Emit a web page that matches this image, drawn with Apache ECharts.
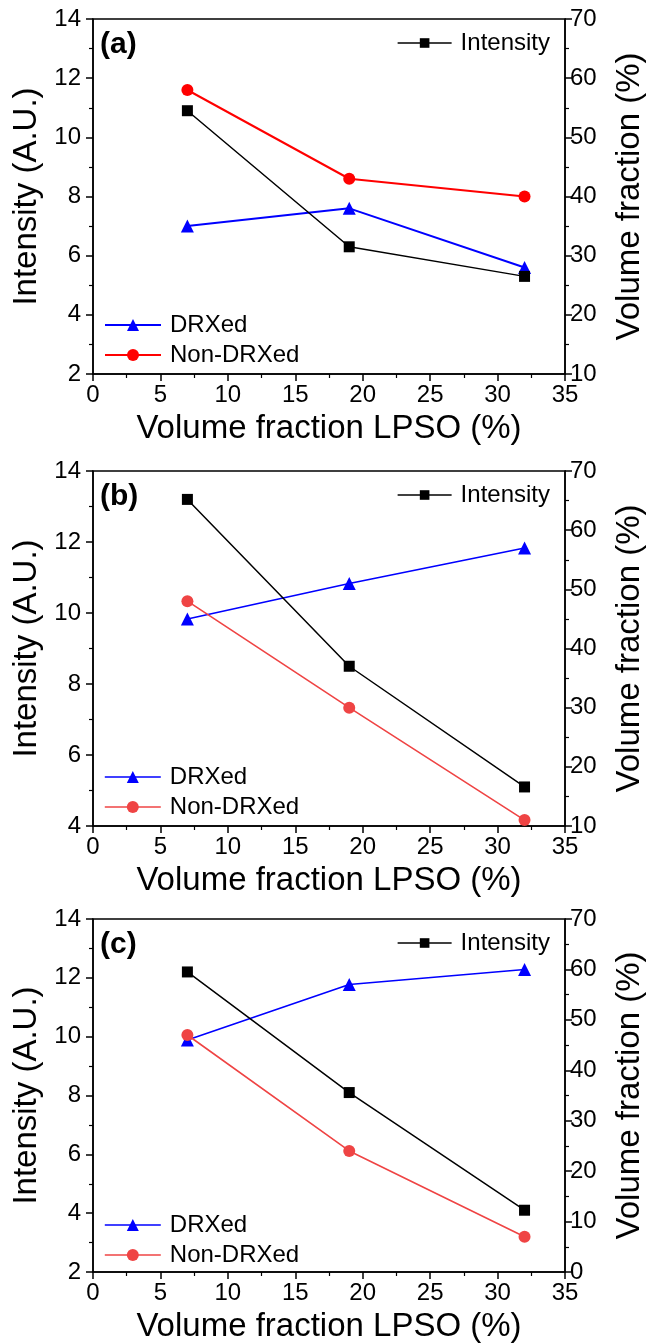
<!DOCTYPE html>
<html>
<head>
<meta charset="utf-8">
<script src="https://cdn.jsdelivr.net/npm/echarts@6/dist/echarts.min.js"></script>
<style>
	html, body { margin: 0; padding: 0; background: #fff; }
	#chart { width: 654px; height: 1344px; }
</style>
</head>
<body>
<div id="chart"></div>
<script>
// LPSO volume fraction (x) for every panel
const lpso = [7, 19, 32];

// panel (a)
const intensityA = [10.9, 6.3, 5.3];
const drxA = [35, 38, 28];
const nonDrxA = [58, 43, 40];
// panel (b)
const intensityB = [13.2, 8.5, 5.1];
const drxB = [45, 51, 57];
const nonDrxB = [48, 30, 11];
// panel (c)
const intensityC = [12.2, 8.1, 4.1];
const drxC = [46, 57, 60];
const nonDrxC = [47, 24, 7];

const panelLabels = ['(a)', '(b)', '(c)'];
const leftMin = [2, 4, 2];
const rightMin = [10, 10, 0];
const panels = [
	[intensityA, drxA, nonDrxA],
	[intensityB, drxB, nonDrxB],
	[intensityC, drxC, nonDrxC]
];

const font = 'Liberation Sans, Arial, sans-serif';
const gridTops = [19, 471, 919];
const redA = '#ff0000';
const redBC = '#ef4444';
const blue = '#0000ff';

function pairs(ys) {
	return lpso.map(function (x, i) { return [x, ys[i]]; });
}

function axisBase(labelMargin) {
	return {
		axisLine: { show: true, onZero: false, lineStyle: { color: '#000', width: 1.5 } },
		axisTick: { show: true, inside: false, length: 7, lineStyle: { color: '#000', width: 1.5 } },
		minorTick: { show: true, splitNumber: 2, length: 4, lineStyle: { color: '#000', width: 1.2 } },
		splitLine: { show: false },
		axisLabel: { color: '#000', fontSize: 24, fontFamily: font, margin: labelMargin },
		nameTextStyle: { color: '#000', fontSize: 33, fontFamily: font },
		nameLocation: 'middle'
	};
}

let grid = [], xAxis = [], yAxis = [], series = [], legend = [], title = [];

for (let p = 0; p < 3; p++) {
	grid.push({
		left: 93, right: 88, top: gridTops[p], height: 355,
		show: true, borderColor: '#000', borderWidth: 1.5, backgroundColor: 'transparent'
	});

	xAxis.push(Object.assign(axisBase(9), {
		type: 'value', gridIndex: p, min: 0, max: 35, interval: 5,
		name: 'Volume fraction LPSO (%)', nameGap: 38
	}));

	yAxis.push(Object.assign(axisBase(12), {
		type: 'value', gridIndex: p, position: 'left',
		min: leftMin[p], max: 14, interval: 2,
		name: 'Intensity (A.U.)', nameGap: 44, nameRotate: 90
	}));
	yAxis.push(Object.assign(axisBase(5), {
		type: 'value', gridIndex: p, position: 'right',
		min: rightMin[p], max: 70, interval: 10,
		name: 'Volume fraction (%)', nameGap: 48, nameRotate: 90
	}));

	let red = p == 0 ? redA : redBC;
	let lw = p == 0 ? 2 : 1.6;
	let data = panels[p];

	series.push({
		name: 'Intensity', type: 'line', xAxisIndex: p, yAxisIndex: p * 2,
		data: pairs(data[0]), symbol: 'rect', symbolSize: 11,
		lineStyle: { color: '#000', width: 1.5 }, itemStyle: { color: '#000' },
		animation: false, z: 3
	});
	series.push({
		name: 'DRXed', type: 'line', xAxisIndex: p, yAxisIndex: p * 2 + 1,
		data: pairs(data[1]), symbol: 'triangle', symbolSize: 13,
		lineStyle: { color: blue, width: lw }, itemStyle: { color: blue },
		animation: false, z: 2
	});
	series.push({
		name: 'Non-DRXed', type: 'line', xAxisIndex: p, yAxisIndex: p * 2 + 1,
		data: pairs(data[2]), symbol: 'circle', symbolSize: 12,
		lineStyle: { color: red, width: lw }, itemStyle: { color: red },
		animation: false, z: 2
	});

	let legendText = { color: '#000', fontSize: 24, fontFamily: font, padding: [0, 0, 0, 4] };
	legend.push({
		orient: 'vertical', right: 104, top: gridTops[p] + 12, padding: 0,
		itemWidth: 54, itemHeight: 12, textStyle: legendText,
		data: [{ name: 'Intensity', itemStyle: { color: '#000' }, lineStyle: { color: '#000', width: 1.5 } }],
		selectedMode: false
	});
	legend.push({
		orient: 'vertical', left: 104, top: gridTops[p] + 294, padding: 0, itemGap: 6,
		itemWidth: 56, itemHeight: 15, textStyle: legendText,
		data: [
			{ name: 'DRXed', itemStyle: { color: blue }, lineStyle: { color: blue, width: lw } },
			{ name: 'Non-DRXed', itemStyle: { color: red }, lineStyle: { color: red, width: lw } }
		],
		selectedMode: false
	});

	title.push({
		text: panelLabels[p], left: 100, top: gridTops[p] + 11, padding: 0,
		textStyle: { color: '#000', fontSize: 30, fontWeight: 'bold', fontFamily: font }
	});
}

let chart = echarts.init(document.getElementById('chart'), null, { renderer: 'canvas' });
chart.setOption({
	backgroundColor: '#fff',
	animation: false,
	title: title,
	legend: legend,
	grid: grid,
	xAxis: xAxis,
	yAxis: yAxis,
	series: series
});
</script>
</body>
</html>
